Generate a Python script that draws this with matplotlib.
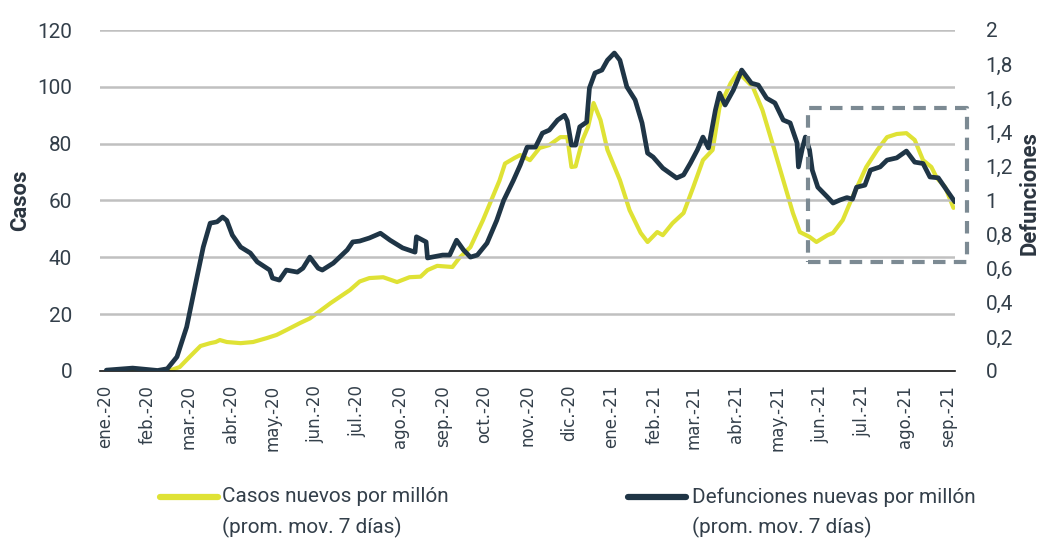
import matplotlib
matplotlib.use("Agg")
import matplotlib.pyplot as plt
from matplotlib import font_manager as fm
from matplotlib.lines import Line2D
import pandas as pd

# ---------------- data ----------------
base_date = "2020-01-01"   # day offsets are counted from this date

case_days = [2, 22, 40, 47, 54, 61, 69, 76, 80, 83, 88, 98, 107, 117, 124, 131,
             141, 148, 155, 163, 177, 184, 191, 201, 211, 220, 228, 233, 240, 251,
             256, 264, 273, 285, 289, 296, 300, 307, 314, 321, 329, 334, 337, 340,
             345, 349, 353, 358, 363, 372, 379, 387, 392, 399, 403, 410, 418, 425,
             432, 439, 444, 452, 457, 461, 468, 475, 483, 490, 497, 502, 509, 514,
             522, 526, 533, 540, 550, 558, 565, 572, 579, 585, 591, 597, 601, 607, 613]
cases = [0.0, 0.0, 0.0, 0.2, 1.4, 4.9, 8.8, 9.8, 10.2, 10.9, 10.2, 9.8, 10.2, 11.6,
         12.7, 14.4, 16.9, 18.5, 21.0, 23.9, 28.5, 31.5, 32.7, 33.0, 31.3, 33.0,
         33.2, 35.5, 37.0, 36.6, 39.8, 43.6, 53.0, 67.0, 73.0, 75.0, 76.0, 74.2,
         78.5, 79.5, 82.3, 82.3, 71.8, 72.0, 81.3, 85.9, 94.3, 88.3, 77.8, 67.2,
         56.6, 48.6, 45.4, 48.9, 47.8, 52.0, 55.6, 64.7, 74.2, 77.8, 92.9, 101.3,
         104.9, 103.4, 100.0, 91.8, 78.8, 67.2, 55.6, 48.9, 47.2, 45.4, 47.8, 48.6,
         53.1, 61.2, 71.8, 77.8, 82.3, 83.4, 83.7, 81.3, 74.2, 71.8, 67.9, 64.7, 57.4]

death_days = [1, 20, 38, 45, 52, 59, 66, 71, 76, 81, 85, 88, 92, 98, 105, 110, 119,
              121, 126, 131, 139, 143, 148, 154, 157, 165, 175, 179, 184, 191, 199,
              206, 215, 224, 225, 232, 233, 244, 249, 254, 259, 264, 269, 276, 283,
              288, 295, 300, 305, 311, 316, 321, 327, 332, 334, 337, 340, 343, 348,
              350, 354, 359, 363, 368, 372, 377, 383, 388, 392, 396, 403, 413, 418,
              423, 428, 432, 436, 441, 444, 448, 454, 460, 467, 472, 478, 484, 490,
              495, 500, 501, 504, 506, 509, 511, 515, 522, 526, 531, 536, 540, 543,
              549, 553, 560, 565, 572, 579, 585, 591, 596, 602, 608, 614]
deaths = [0.005, 0.017, 0.003, 0.013, 0.083, 0.258, 0.533, 0.727, 0.867, 0.875,
          0.903, 0.883, 0.797, 0.727, 0.692, 0.640, 0.592, 0.545, 0.533, 0.592,
          0.580, 0.603, 0.668, 0.603, 0.592, 0.633, 0.710, 0.757, 0.762, 0.780,
          0.808, 0.767, 0.722, 0.697, 0.787, 0.757, 0.663, 0.680, 0.680, 0.767,
          0.710, 0.668, 0.680, 0.750, 0.883, 1.000, 1.117, 1.208, 1.313, 1.313,
          1.395, 1.413, 1.472, 1.500, 1.467, 1.325, 1.325, 1.432, 1.460, 1.660,
          1.748, 1.765, 1.823, 1.865, 1.823, 1.667, 1.590, 1.455, 1.278, 1.255,
          1.190, 1.132, 1.150, 1.220, 1.297, 1.372, 1.308, 1.530, 1.630, 1.560,
          1.648, 1.765, 1.688, 1.677, 1.600, 1.572, 1.472, 1.455, 1.337, 1.197,
          1.313, 1.372, 1.297, 1.178, 1.078, 1.020, 0.985, 1.003, 1.017, 1.008,
          1.078, 1.090, 1.178, 1.197, 1.237, 1.250, 1.290, 1.225, 1.217, 1.138,
          1.133, 1.062, 0.992]

month_starts = pd.date_range("2020-01-01", "2021-09-01", freq="MS")
month_labels = ["ene.-20", "feb.-20", "mar.-20", "abr.-20", "may.-20", "jun.-20",
                "jul.-20", "ago.-20", "sep.-20", "oct.-20", "nov.-20", "dic.-20",
                "ene.-21", "feb.-21", "mar.-21", "abr.-21", "may.-21", "jun.-21",
                "jul.-21", "ago.-21", "sep.-21"]
left_ticks = [0, 20, 40, 60, 80, 100, 120]
right_ticks = [0, 0.2, 0.4, 0.6, 0.8, 1.0, 1.2, 1.4, 1.6, 1.8, 2.0]
right_labels = ["0", "0,2", "0,4", "0,6", "0,8", "1", "1,2", "1,4", "1,6", "1,8", "2"]

# highlighted window (days, cases-axis units)
box_days = (508, 623)
box_cases = (38.4, 92.5)

label_cases = ["Casos nuevos por millón", "(prom. mov. 7 días)"]
label_deaths = ["Defunciones nuevas por millón", "(prom. mov. 7 días)"]

# ---------------- style ----------------
names = {f.name for f in fm.fontManager.ttflist}
if "Liberation Sans Narrow" in names:
    NARROW, scale = "Liberation Sans Narrow", 1.0
else:
    NARROW, scale = "Roboto", 0.88
YELLOW = "#dfe235"
DARK = "#1f3546"
GRID = "#c0c0c0"
TXT = "#333f4a"
BOX = "#7c8a93"

base = pd.Timestamp(base_date)
def to_dates(days):
    return base + pd.to_timedelta(days, unit="D")

fig = plt.figure(figsize=(10.4, 5.4), dpi=100)
ax = fig.add_axes([100 / 1040, 1 - 371 / 540, 855 / 1040, 341 / 540])
ax2 = ax.twinx()

ax.plot(to_dates(case_days), cases, color=YELLOW, lw=3.0, solid_capstyle="round",
        solid_joinstyle="round", zorder=2)
ax2.plot(to_dates(death_days), deaths, color=DARK, lw=3.4, solid_capstyle="round",
         solid_joinstyle="round", zorder=3)

ax.set_ylim(0, 120)
ax2.set_ylim(0, 2)
ax.set_xlim(to_dates([-3.6])[0], to_dates([614.1])[0])

for v in left_ticks[1:]:
    ax2.axhline(v / 60.0, color=GRID, lw=1.8, zorder=1)

for a in (ax, ax2):
    for s in a.spines.values():
        s.set_visible(False)
ax2.spines["bottom"].set_visible(True)
ax2.spines["bottom"].set_color("#111111")
ax2.spines["bottom"].set_linewidth(1.2)

ax.set_yticks(left_ticks)
ax.set_yticklabels([str(v) for v in left_ticks], family=NARROW, fontsize=17 * scale, color=TXT)
ax.tick_params(axis="y", length=0, pad=20)
ax2.set_yticks(right_ticks)
ax2.set_yticklabels(right_labels, family=NARROW, fontsize=17 * scale, color=TXT)
ax2.tick_params(axis="y", length=0, pad=22)

ax.set_xticks(month_starts)
ax.set_xticklabels(month_labels, rotation=90, family="DejaVu Sans", fontsize=12, color=TXT)
ax.tick_params(axis="x", length=0, pad=10)

fig.text(20 / 1040, 1 - 200 / 540, "Casos", rotation=90, ha="center", va="center",
         family=NARROW, fontsize=18 * scale, fontweight="bold", color="#2b3540")
fig.text(1030 / 1040, 1 - 193 / 540, "Defunciones", rotation=90, ha="center", va="center",
         family=NARROW, fontsize=18 * scale, fontweight="bold", color="#2b3540")

# dashed highlight box
bx0, bx1 = to_dates([box_days[0]])[0], to_dates([box_days[1]])[0]
ax2.plot([bx0, bx1, bx1, bx0, bx0],
         [box_cases[0] / 60, box_cases[0] / 60, box_cases[1] / 60, box_cases[1] / 60,
          box_cases[0] / 60],
         color=BOX, lw=3.0, ls=(0, (3, 2)), clip_on=False, zorder=6)

# legend (manual)
fig.add_artist(Line2D([160 / 1040, 218 / 1040], [1 - 497 / 540] * 2, color=YELLOW, lw=4.5,
                      solid_capstyle="round"))
fig.text(222 / 1040, 1 - 497 / 540, label_cases[0], ha="left", va="center",
         family=NARROW, fontsize=17 * scale, color=TXT)
fig.text(222 / 1040, 1 - 527 / 540, label_cases[1], ha="left", va="center",
         family=NARROW, fontsize=17 * scale, color=TXT)
fig.add_artist(Line2D([628 / 1040, 686 / 1040], [1 - 497 / 540] * 2, color=DARK, lw=4.5,
                      solid_capstyle="round"))
fig.text(692 / 1040, 1 - 497 / 540, label_deaths[0], ha="left", va="center",
         family=NARROW, fontsize=17 * scale, color=TXT)
fig.text(692 / 1040, 1 - 527 / 540, label_deaths[1], ha="left", va="center",
         family=NARROW, fontsize=17 * scale, color=TXT)

fig.savefig("out.png", dpi=100)
